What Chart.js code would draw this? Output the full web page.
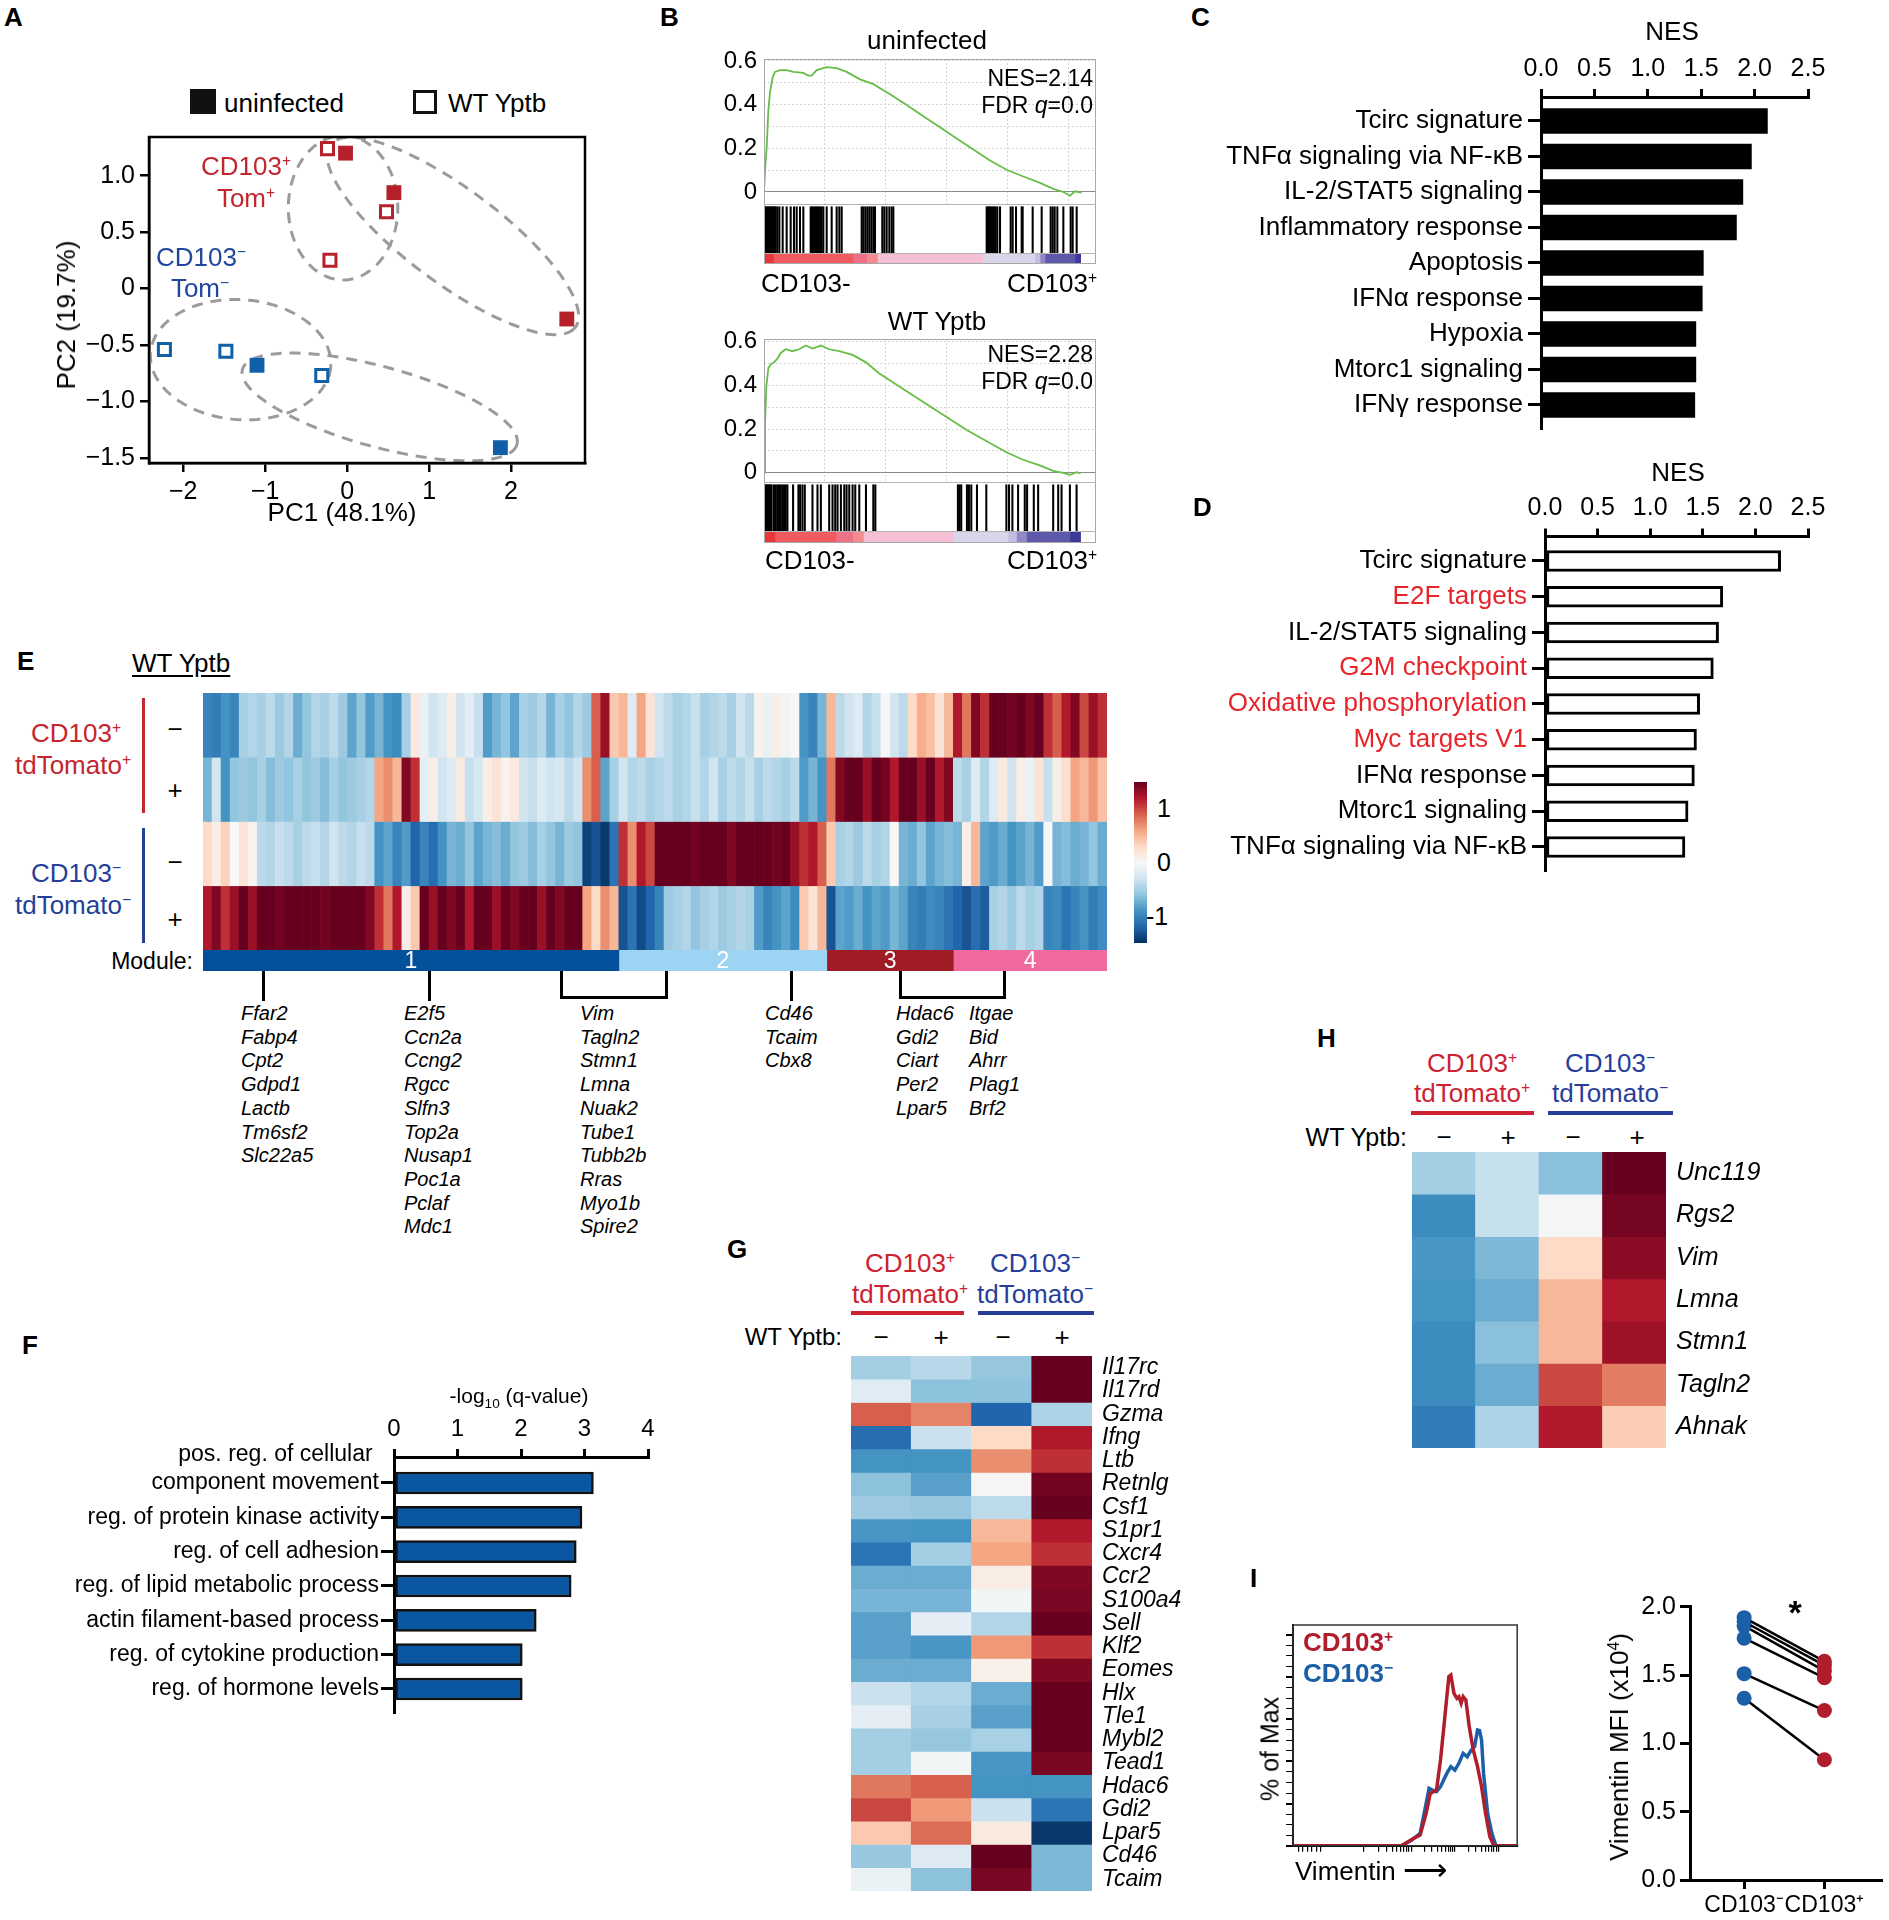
<!DOCTYPE html>
<html><head><meta charset="utf-8">
<script src="https://cdn.jsdelivr.net/npm/chart.js@4.4.1/dist/chart.umd.min.js"></script>
<style>
html,body{margin:0;padding:0;background:#fff;overflow:hidden;}
#fig{position:relative;width:1889px;height:1920px;overflow:hidden;background:#fff;font-family:'Liberation Sans',Arial,Helvetica,sans-serif;color:#000;}
#fig canvas{position:absolute;}
.t{position:absolute;white-space:nowrap;line-height:1;}
.t sup{font-size:0.6em;vertical-align:0;position:relative;top:-0.6em;line-height:0;}
.t sub{font-size:0.65em;vertical-align:0;position:relative;top:0.35em;line-height:0;}
.ln{position:absolute;}
</style></head><body><div id="fig"></div>
<script>
// ---------------- Panel A : PCA ----------------
const A_TOMP_UNINF = [[-0.02,1.20],[0.57,0.85],[2.68,-0.27]];
const A_TOMP_YPTB  = [[-0.24,1.24],[0.48,0.68],[-0.21,0.25]];
const A_TOMN_UNINF = [[-1.10,-0.68],[1.87,-1.41]];
const A_TOMN_YPTB  = [[-2.23,-0.54],[-1.48,-0.555],[-0.31,-0.77]];
const A_XTICKS = [-2,-1,0,1,2];
const A_YTICKS = [-1.5,-1,-0.5,0,0.5,1];
const A_ELLIPSES = [
  {c:[1.29,0.466],  a:[1.477,-0.823], b:[-0.417,-0.296]},
  {c:[-0.05,0.716], a:[0.0,0.64],     b:[0.668,0.0]},
  {c:[-1.30,-0.63], a:[1.10,-0.061],  b:[-0.058,-0.53]},
  {c:[0.397,-1.049],a:[1.671,-0.341], b:[-0.172,-0.334]}
];
// ---------------- Panel B : GSEA ----------------
const B_RANK_MAX = 27260;
const B_GRID_RANKS = [5000,10000,15000,20000,25000];
const B_YTICKS = [0,0.1,0.2,0.3,0.4,0.5,0.6];
const B_UNINF_RANK = [0,109,219,356,493,712,903,1314,1861,2409,3230,3640,3914,4324,5146,5967,6788,7883,8977,10346,11714,13083,14451,15820,17188,18557,19925,21294,22662,23757,24578,25125,25536,26084];
const B_UNINF_ES   = [0,0.118,0.203,0.372,0.457,0.525,0.550,0.558,0.558,0.550,0.545,0.533,0.533,0.558,0.572,0.567,0.550,0.516,0.494,0.448,0.398,0.347,0.296,0.245,0.195,0.144,0.102,0.071,0.042,0.014,0,-0.017,0.003,-0.003];
const B_WT_RANK = [0,82,192,357,549,824,1098,1373,1784,2333,2882,3431,3980,4667,5353,6176,7274,8372,9470,11117,13039,14960,16607,18254,19901,21274,22646,23744,24568,25117,25666,25995];
const B_WT_ES   = [0,0.223,0.395,0.480,0.497,0.506,0.523,0.549,0.566,0.557,0.566,0.583,0.569,0.583,0.566,0.557,0.540,0.506,0.455,0.395,0.326,0.257,0.197,0.146,0.094,0.060,0.034,0.009,0,-0.009,0.003,-0.003];
const B_UNINF_HITS = [55,137,219,301,383,465,547,630,712,794,876,958,1095,1259,1533,1861,2190,2463,2682,2956,3230,3832,3941,4051,4160,4270,4379,4489,4598,4735,4872,5146,5556,5967,6186,6377,8019,8156,8320,8485,8649,8813,8977,9114,9716,9881,10072,10291,10483,10620,18283,18365,18475,18557,18666,18776,18885,19022,19159,19378,20254,20418,20692,21157,21239,22060,22799,23538,23702,23867,24086,24578,25180,25345,25673];
const B_WT_HITS = [55,137,220,302,384,467,549,631,824,961,1098,1235,1373,1510,1647,1784,1922,2388,2827,2965,3157,3349,3980,4392,4667,5353,5627,5847,6039,6314,6588,6780,7000,7275,7494,7823,8372,8976,9141,15921,16058,16196,16662,16827,17019,17486,18254,19901,20121,20396,20862,21411,21603,22152,22509,23744,24156,24431,25117,25666];
const B_UNINF_BINS = [[0,766],[766,7335],[7335,8430],[8430,9306],[9306,17955],[17955,22252],[22252,22662],[22662,23073],[23073,25536],[25536,26002]];
const B_WT_BINS = [[0,906],[906,5902],[5902,7274],[7274,8152],[8152,15509],[15509,20038],[20038,20725],[20725,21548],[21548,25117],[25117,25995]];
const B_BIN_COLORS = ['#e8363b','#ef5b5e','#ee7287','#f28c8f','#f5bfd6','#d9d5ea','#c4bde0','#8f87c6','#5d58a9','#3b3899'];
// ---------------- Panel C / D : NES ----------------
const NES_TICKS = [0,0.5,1,1.5,2,2.5];
const C_CATS = ['Tcirc signature','TNFα signaling via NF-κB','IL-2/STAT5 signaling','Inflammatory response','Apoptosis','IFNα response','Hypoxia','Mtorc1 signaling','IFNγ response'];
const C_NES  = [2.12,1.97,1.89,1.83,1.52,1.51,1.45,1.45,1.44];
const D_CATS = ['Tcirc signature','E2F targets','IL-2/STAT5 signaling','G2M checkpoint','Oxidative phosphorylation','Myc targets V1','IFNα response','Mtorc1 signaling','TNFα signaling via NF-κB'];
const D_NES  = [2.24,1.69,1.65,1.60,1.47,1.44,1.42,1.36,1.33];
const D_HIGHLIGHT = [0,1,0,1,1,1,0,0,0];
// ---------------- Panel E : heatmap ----------------
const E_TOMP_UNINF = [-1.0,-1.05,-0.9,-1.0,-0.5,-0.45,-0.5,-0.4,-0.55,-0.45,-0.75,-0.6,-0.45,-0.5,-0.4,-0.55,-0.8,-0.6,-0.85,-0.7,-0.9,-0.95,-0.5,0.15,-0.1,-0.3,-0.2,0.1,-0.3,-0.15,-0.35,-0.85,-0.7,-0.6,-0.8,-0.5,-0.55,-0.45,-0.7,-0.5,-0.6,-0.45,-0.55,0.9,1.3,0.4,0.5,-0.2,0.6,0.2,-0.3,-0.4,-0.5,-0.45,-0.35,-0.5,-0.45,-0.4,-0.5,-0.3,-0.4,0.05,-0.1,0.1,-0.05,0.0,-0.9,-1.0,-0.7,0.5,-0.4,-0.3,-0.2,-0.45,-0.35,0.0,-0.3,-0.4,0.3,0.55,0.45,0.2,0.5,1.2,0.8,1.4,1.1,1.5,1.5,1.45,1.5,1.4,1.5,1.1,0.9,1.2,1.4,1.0,1.3,1.1];
const E_TOMP_YPTB  = [-0.7,-0.3,-0.9,-0.6,-0.55,-0.6,-0.5,-0.65,-0.55,-0.6,-0.5,-0.6,-0.55,-0.65,-0.5,-0.6,-0.55,-0.5,-0.45,0.6,0.7,0.5,1.4,1.1,-0.15,0.1,-0.3,-0.2,0.15,-0.35,-0.25,0.1,0.2,0.05,0.15,-0.3,-0.35,-0.2,-0.3,-0.25,-0.4,-0.3,0.7,0.9,-0.8,-0.5,-0.3,-0.45,-0.4,-0.5,-0.45,-0.4,-0.5,-0.45,-0.35,-0.45,-0.3,-0.5,-0.4,-0.45,-0.35,-0.5,-0.4,-0.45,-0.5,-0.4,-0.85,-0.7,-0.9,0.8,1.4,1.5,1.5,1.3,1.5,1.45,1.2,1.5,1.5,1.3,1.5,1.2,1.4,-0.4,-0.5,-0.2,-0.45,-0.2,0.15,-0.3,0.1,-0.1,0.2,-0.35,0.1,0.25,0.6,0.5,0.65,0.45];
const E_TOMN_UNINF = [0.3,0.1,0.35,0.0,0.2,0.05,-0.4,-0.45,-0.35,-0.4,-0.5,-0.4,-0.35,-0.45,-0.3,-0.4,-0.45,-0.35,-0.4,-0.9,-0.8,-1.0,-0.85,-1.2,-1.0,-1.15,-0.9,-0.7,-0.75,-0.6,-0.8,-0.7,-0.65,-0.75,-0.6,-0.55,-0.65,-0.5,-0.6,-0.7,-0.55,-0.6,-1.4,-1.3,-1.45,-1.1,1.1,0.7,1.2,1.0,1.5,1.5,1.5,1.5,1.45,1.5,1.5,1.5,1.4,1.5,1.5,1.5,1.5,1.45,1.5,1.3,1.1,1.2,0.9,0.4,-0.5,-0.45,-0.55,-0.4,-0.5,-0.45,0.0,-0.7,-0.75,-0.6,-0.8,-0.7,-0.65,-0.7,0.1,0.5,-0.8,-0.85,-0.75,-0.9,-0.8,-0.7,-0.85,0.0,-0.7,-0.65,-0.75,-0.7,-0.6,-0.75];
const E_TOMN_YPTB  = [1.2,1.4,1.1,1.3,1.5,1.3,1.5,1.5,1.45,1.5,1.5,1.5,1.5,1.45,1.5,1.5,1.5,1.5,1.4,1.1,0.8,1.2,0.1,0.4,1.5,1.3,1.5,1.4,1.5,1.2,1.5,1.5,1.3,1.5,1.4,1.5,1.5,1.3,1.5,1.4,1.5,1.5,0.6,0.3,0.7,0.5,-1.3,-1.1,-1.35,-1.2,-1.0,-0.55,-0.5,-0.45,-0.6,-0.5,-0.45,-0.55,-0.5,-0.45,-0.5,-0.85,-1.0,-0.9,-0.8,-0.95,0.4,0.2,0.5,-1.3,-0.8,-0.85,-0.75,-0.9,-0.8,-0.85,-0.7,-0.8,-1.0,-1.05,-0.95,-1.0,-1.1,-1.2,-1.3,-1.15,-1.25,-0.5,-0.45,-0.55,-0.4,-0.5,-0.45,-1.0,-0.95,-1.1,-1.0,-0.9,-1.05,-0.95];
const E_MODULE_NAMES = ['1','2','3','4'];
const E_MODULE_SIZES = [46,23,14,17];
const E_MODULE_COLORS = ['#03519b','#9ed4f3','#a01c24','#f06aa0'];
const E_GENE_LISTS = [
  ['Ffar2','Fabp4','Cpt2','Gdpd1','Lactb','Tm6sf2','Slc22a5'],
  ['E2f5','Ccn2a','Ccng2','Rgcc','Slfn3','Top2a','Nusap1','Poc1a','Pclaf','Mdc1'],
  ['Vim','Tagln2','Stmn1','Lmna','Nuak2','Tube1','Tubb2b','Rras','Myo1b','Spire2'],
  ['Cd46','Tcaim','Cbx8'],
  ['Hdac6','Gdi2','Ciart','Per2','Lpar5'],
  ['Itgae','Bid','Ahrr','Plag1','Brf2']
];
// ---------------- Panel F : GO terms ----------------
const F_CATS = [['pos. reg. of cellular ','component movement'],'reg. of protein kinase activity','reg. of cell adhesion','reg. of lipid metabolic process','actin filament-based process','reg. of cytokine production','reg. of hormone levels'];
const F_VALUES = [3.14,2.96,2.87,2.79,2.24,2.02,2.02];
const F_TICKS = [0,1,2,3,4];
// ---------------- Panel G / H : heatmaps ----------------
const HEAT_CONDS = ['CD103+ uninfected','CD103+ WT Yptb','CD103- uninfected','CD103- WT Yptb'];
const G_GENES = ['Il17rc','Il17rd','Gzma','Ifng','Ltb','Retnlg','Csf1','S1pr1','Cxcr4','Ccr2','S100a4','Sell','Klf2','Eomes','Hlx','Tle1','Mybl2','Tead1','Hdac6','Gdi2','Lpar5','Cd46','Tcaim'];
const G_TOMP_UNINF = [-0.52,-0.18,0.9,-1.15,-0.9,-0.62,-0.55,-0.88,-1.1,-0.75,-0.7,-0.82,-0.82,-0.75,-0.33,-0.15,-0.52,-0.52,0.8,1.0,0.4,-0.57,-0.1];
const G_TOMP_YPTB  = [-0.42,-0.62,0.75,-0.33,-0.9,-0.82,-0.58,-0.9,-0.52,-0.75,-0.7,-0.15,-0.88,-0.75,-0.45,-0.5,-0.58,-0.04,0.9,0.65,0.85,-0.2,-0.62];
const G_TOMN_UNINF = [-0.58,-0.61,-1.2,0.3,0.7,0.02,-0.4,0.5,0.6,0.12,-0.04,-0.45,0.65,0.08,-0.75,-0.82,-0.49,-0.88,-0.9,-0.33,0.15,1.5,1.43];
const G_TOMN_YPTB  = [1.5,1.5,-0.47,1.2,1.1,1.45,1.5,1.2,1.1,1.4,1.43,1.5,1.1,1.4,1.5,1.5,1.5,1.42,-0.9,-1.1,-1.45,-0.68,-0.68];
const H_GENES = ['Unc119','Rgs2','Vim','Lmna','Stmn1','Tagln2','Ahnak'];
const H_TOMP_UNINF = [-0.52,-0.95,-0.88,-0.9,-0.95,-0.95,-1.05];
const H_TOMP_YPTB  = [-0.35,-0.35,-0.68,-0.75,-0.63,-0.75,-0.47];
const H_TOMN_UNINF = [-0.63,-0.03,0.3,0.5,0.5,1.0,1.2];
const H_TOMN_YPTB  = [1.5,1.44,1.35,1.2,1.28,0.78,0.38];
// ---------------- Panel I ----------------
const I_HIST_CD103P = [[0,0],[48.4,0],[53.9,3.5],[56.7,5.1],[59.4,15.3],[61.2,24.8],[64.0,26.4],[65.8,40.7],[67.6,59.7],[69.5,80.2],[70.4,81.0],[71.8,72.3],[73.1,69.9],[74.0,70.7],[75.0,67.6],[75.9,70.7],[77.1,69.1],[78.6,56.5],[80.4,45.4],[82.3,37.5],[84.1,28.0],[85.9,15.3],[87.8,4.3],[89.6,0],[100,0]];
const I_HIST_CD103N = [[0,0],[48.4,0],[53.0,2.7],[56.7,5.9],[58.5,15.3],[60.7,27.2],[62.2,26.4],[64.0,25.6],[65.8,28.0],[68.6,34.3],[70.4,37.5],[72.2,35.9],[74.0,39.1],[75.9,43.8],[77.7,42.2],[79.5,45.4],[81.0,47.0],[82.3,54.9],[83.2,54.6],[84.1,50.2],[85.0,34.3],[86.8,15.3],[88.7,5.9],[90.5,0],[100,0]];
const I_HIST_XTICKS = [2.7,4.5,6.5,8.5,10.5,12.5,31.7,38.0,41.7,44.3,46.4,48.0,49.4,50.7,51.7,52.7,58.6,62.0,64.5,66.4,67.9,69.3,70.4,71.4,72.3,78.1,81.5,83.9,85.7,87.2,88.5,89.6,90.6,91.5];
const I_HIST_YTICKS = [0,5,10,15,20,25,30,35,40,45,50,55,60,65,70,75,80,85,90,95,100];
const I_CATS = ['CD103⁻','CD103⁺'];
const I_MFI_CD103N = [1.92,1.89,1.86,1.77,1.51,1.33];
const I_MFI_CD103P = [1.60,1.57,1.53,1.48,1.24,0.88];
const I_MFI_TICKS = [0,0.5,1,1.5,2];

// ================= drawing =================
Chart.defaults.font.family = "'Liberation Sans', Arial, Helvetica, sans-serif";
Chart.defaults.color = '#000';
Chart.defaults.animation = false;
Chart.defaults.responsive = false;
Chart.defaults.devicePixelRatio = 1;
Chart.defaults.events = [];
Chart.defaults.plugins.legend.display = false;
Chart.defaults.plugins.tooltip.enabled = false;

const fig = document.getElementById('fig');
function cv(l,t,w,h){const c=document.createElement('canvas');c.width=w;c.height=h;c.style.left=l+'px';c.style.top=t+'px';c.style.width=w+'px';c.style.height=h+'px';fig.appendChild(c);return c;}
function T(x,y,html,o){o=o||{};const d=document.createElement('div');d.className='t';const ax=o.a==='r'?'-100%':o.a==='c'?'-50%':'0';d.style.left=x+'px';d.style.top=y+'px';d.style.fontSize=(o.s||26)+'px';if(o.c)d.style.color=o.c;if(o.b)d.style.fontWeight='bold';if(o.i)d.style.fontStyle='italic';if(o.u){d.style.textDecoration='underline';d.style.textUnderlineOffset='3px';}d.style.transform='translate('+ax+',-50%)'+(o.rot?' rotate('+o.rot+'deg)':'');d.innerHTML=html;fig.appendChild(d);return d;}
function L(x,y,w,h,c){const d=document.createElement('div');d.className='ln';d.style.cssText='left:'+x+'px;top:'+y+'px;width:'+w+'px;height:'+h+'px;background:'+(c||'#000');fig.appendChild(d);}
function BOX(x,y,w,h,c,bw){const d=document.createElement('div');d.className='ln';d.style.cssText='left:'+x+'px;top:'+y+'px;width:'+w+'px;height:'+h+'px;border:'+(bw||1)+'px solid '+c+';box-sizing:border-box';fig.appendChild(d);}
const fix = n => s => { if (s.isHorizontal()) s.height = n; else s.width = n; s.paddingLeft = s.paddingRight = s.paddingTop = s.paddingBottom = 0; };
const ticksAt = arr => s => { s.ticks = arr.map(v => ({value: v})); };
const toXY = arr => arr.map(p => ({x:p[0], y:p[1]}));
const signed = (v,d) => (v<0?'−':'') + Math.abs(v).toFixed(d);
const framePlugin = (color,w) => ({id:'frame',afterDraw(c){const a=c.chartArea,x=c.ctx;x.save();x.strokeStyle=color;x.lineWidth=w;x.strokeRect(a.left,a.top,a.right-a.left,a.bottom-a.top);x.restore();}});
const RDBU=['#053061','#2166ac','#4393c3','#92c5de','#d1e5f0','#f7f7f7','#fddbc7','#f4a582','#d6604d','#b2182b','#67001f'];
function hx(h){return [1,3,5].map(i=>parseInt(h.substr(i,2),16));}
function heat(v){const t=(Math.max(-1.5,Math.min(1.5,v))+1.5)/3*10;const i=Math.min(9,Math.floor(t));const f=t-i;const a=hx(RDBU[i]),b=hx(RDBU[i+1]);return 'rgb('+a.map((x,k)=>Math.round(x+(b[k]-x)*f)).join(',')+')';}
const axK = (w,tl) => ({grid:{drawOnChartArea:false,color:'#000',lineWidth:w,tickLength:tl,offset:false},border:{display:true,color:'#000',width:w}});

const RED_A='#b5202a', BLUE_A='#0f5fa9', REDT='#c1272d', BLUET='#21479b';
const REDE='#c5252c', BLUEE='#253f98', REDG='#cc2232', BLUEG='#273f9b', RED_D='#e8242b';
const RED_I='#b01e2c', BLUE_I='#1b5fa8';

// ---------- A ----------
const ellipsePlugin = {id:'ell',beforeDatasetsDraw(c){const {ctx,chartArea:a,scales:{x,y}}=c;ctx.save();ctx.beginPath();ctx.rect(a.left,a.top,a.right-a.left,a.bottom-a.top);ctx.clip();ctx.setLineDash([11,8]);ctx.lineWidth=3;ctx.strokeStyle='#9b9b9b';
 A_ELLIPSES.forEach(e=>{ctx.beginPath();for(let k=0;k<=160;k++){const t=k/160*2*Math.PI;const px=x.getPixelForValue(e.c[0]+e.a[0]*Math.cos(t)+e.b[0]*Math.sin(t));const py=y.getPixelForValue(e.c[1]+e.a[1]*Math.cos(t)+e.b[1]*Math.sin(t));if(k)ctx.lineTo(px,py);else ctx.moveTo(px,py);}ctx.stroke();});ctx.restore();}};
new Chart(cv(0,120,600,420),{type:'scatter',
 data:{datasets:[
  {data:toXY(A_TOMP_UNINF),pointStyle:'rect',pointRadius:10.5,pointBackgroundColor:RED_A,pointBorderWidth:0},
  {data:toXY(A_TOMP_YPTB),pointStyle:'rect',pointRadius:8.5,pointBackgroundColor:'#fff',pointBorderColor:RED_A,pointBorderWidth:3},
  {data:toXY(A_TOMN_UNINF),pointStyle:'rect',pointRadius:10.5,pointBackgroundColor:BLUE_A,pointBorderWidth:0},
  {data:toXY(A_TOMN_YPTB),pointStyle:'rect',pointRadius:8.5,pointBackgroundColor:'#fff',pointBorderColor:BLUE_A,pointBorderWidth:3}]},
 options:{layout:{padding:{top:17,right:15,bottom:0,left:0}},
  scales:{
   x:Object.assign({type:'linear',min:-2.418,max:2.902,afterBuildTicks:ticksAt(A_XTICKS),afterFit:fix(77),ticks:{callback:v=>signed(v,0),font:{size:25},padding:5,maxRotation:0,autoSkip:false}},axK(2.5,9)),
   y:Object.assign({type:'linear',min:-1.546,max:1.343,afterBuildTicks:ticksAt(A_YTICKS),afterFit:fix(149),ticks:{callback:v=>v===0?'0':signed(v,1),font:{size:25},padding:5,autoSkip:false}},axK(2.5,9))}},
 plugins:[ellipsePlugin,framePlugin('#000',2.5)]});
T(4,17,'A',{b:1});
L(190,89,26,25,'#111'); BOX(413,90,24,24,'#111',3);
T(224,103,'uninfected'); T(448,103,'WT Yptb');
T(66,315,'PC2 (19.7%)',{a:'c',rot:-90}); T(342,512,'PC1 (48.1%)',{a:'c'});
T(246,166,'CD103<sup>+</sup>',{a:'c',c:REDT}); T(246,198,'Tom<sup>+</sup>',{a:'c',c:REDT});
T(201,257,'CD103<sup>−</sup>',{a:'c',c:BLUET}); T(200,288,'Tom<sup>−</sup>',{a:'c',c:BLUET});

// ---------- B ----------
function gseaCurve(top,h,ymin,ymax,ranks,es){
 new Chart(cv(700,top,400,h),{type:'line',
  data:{datasets:[{data:ranks.map((r,i)=>({x:r,y:es[i]})),borderColor:'#67bd45',borderWidth:1.8,pointRadius:0,tension:0}]},
  options:{layout:{padding:{top:9,right:4,left:0,bottom:0}},
   scales:{
    x:{type:'linear',min:0,max:B_RANK_MAX,afterBuildTicks:ticksAt(B_GRID_RANKS),afterFit:fix(0),ticks:{display:false},grid:{drawTicks:false,color:'#d6d6d6',lineWidth:1},border:{display:false,dash:[2,2]}},
    y:{type:'linear',min:ymin,max:ymax,afterBuildTicks:ticksAt(B_YTICKS),afterFit:fix(64),
       ticks:{callback:v=>{const k=Math.round(v*10);return k%2===0?(k===0?'0':(k/10).toFixed(1)):'';},font:{size:24},padding:7,autoSkip:false},
       grid:{drawTicks:false,lineWidth:1,color:c=>(c.tick&&Math.abs(c.tick.value)<1e-9)?'#8a8a8a':'#d6d6d6'},
       border:{display:false,dash:c=>(c.tick&&Math.abs(c.tick.value)<1e-9)?[]:[2,2]}}}}});
}
function barcode(top,hits){
 new Chart(cv(764,top,332,49),{type:'bar',
  data:{datasets:[{data:hits.map(r=>({x:r,y:1})),backgroundColor:'#000',borderWidth:0,barThickness:1.4}]},
  options:{scales:{x:{type:'linear',display:false,min:0,max:B_RANK_MAX,offset:false,grid:{offset:false}},y:{display:false,min:0,max:1.06}}}});
}
function rankBar(top,h,bins){
 new Chart(cv(764,top,332,h),{type:'bar',
  data:{labels:['rank'],datasets:bins.map((b,i)=>({data:[b],backgroundColor:B_BIN_COLORS[i],grouped:false,barPercentage:1,categoryPercentage:1,borderWidth:0}))},
  options:{indexAxis:'y',scales:{x:{display:false,min:0,max:B_RANK_MAX},y:{display:false}}}});
}
gseaCurve(50,154,-0.055,0.609,B_UNINF_RANK,B_UNINF_ES); barcode(204,B_UNINF_HITS); rankBar(253,11,B_UNINF_BINS);
gseaCurve(330,152,-0.042,0.613,B_WT_RANK,B_WT_ES); barcode(482,B_WT_HITS); rankBar(531,12,B_WT_BINS);
BOX(764,59,332,205,'#a8a8a8'); L(764,204,332,1,'#b4b4b4'); L(764,253,332,1,'#b4b4b4');
BOX(764,339,332,204,'#a8a8a8'); L(764,482,332,1,'#b4b4b4'); L(764,531,332,1,'#b4b4b4');
T(660,17,'B',{b:1});
T(927,40,'uninfected',{a:'c'}); T(1093,78,'NES=2.14',{a:'r',s:23}); T(1093,105,'FDR <i>q</i>=0.0',{a:'r',s:23});
T(761,283,'CD103-'); T(1097,283,'CD103<sup>+</sup>',{a:'r'});
T(937,321,'WT Yptb',{a:'c'}); T(1093,354,'NES=2.28',{a:'r',s:23}); T(1093,381,'FDR <i>q</i>=0.0',{a:'r',s:23});
T(765,560,'CD103-'); T(1097,560,'CD103<sup>+</sup>',{a:'r'});

// ---------- C / D / F (horizontal bars) ----------
function hbar(canvas,cats,vals,o){
 const plugins=o.plugins||[];
 new Chart(canvas,{type:'bar',
  data:{datasets:[{data:vals.map((v,i)=>({x:v,y:i})),backgroundColor:o.fill,borderColor:o.stroke||o.fill,borderWidth:o.bw||0,borderSkipped:false,barThickness:o.thick}]},
  options:{indexAxis:'y',layout:{padding:o.pad},
   scales:{
    x:Object.assign({type:'linear',position:'top',min:0,max:o.xmax,afterBuildTicks:ticksAt(o.xticks),afterFit:fix(o.xh),ticks:{callback:o.xfmt,font:{size:o.xfs},padding:o.xpad,maxRotation:0,autoSkip:false}},axK(3,8)),
    y:Object.assign({type:'linear',reverse:true,offset:false,min:o.ymin,max:o.ymax,afterBuildTicks:ticksAt(cats.map((_,i)=>i)),afterFit:fix(o.yw),
      ticks:{callback:v=>{const c=cats[v];return Array.isArray(c)?c[c.length-1]:c;},font:{size:o.yfs},padding:o.ypad,autoSkip:false,color:o.ycolor||'#000'}},axK(3,13))}},
  plugins:plugins});
}
hbar(cv(1190,40,640,400),C_CATS,C_NES,{fill:'#000',thick:25,pad:{top:0,right:22,bottom:12,left:0},xmax:2.5,xticks:NES_TICKS,xfmt:v=>v.toFixed(1),xh:57,xfs:25,xpad:5,ymin:-0.676,ymax:8.648,yw:351,yfs:26,ypad:5});
hbar(cv(1190,450,640,430),D_CATS,D_NES,{fill:'#fff',stroke:'#000',bw:3,thick:21,pad:{top:0,right:22,bottom:10,left:0},xmax:2.5,xticks:NES_TICKS,xfmt:v=>v.toFixed(1),xh:86.5,xfs:25,xpad:5,ymin:-0.685,ymax:8.644,yw:355,yfs:26,ypad:5,ycolor:c=>D_HIGHLIGHT[c.index]?RED_D:'#000'});
const fExtraLines={id:'fml',afterDraw(c){const s=c.scales.y,ctx=c.ctx;ctx.save();ctx.font='23px "Liberation Sans", Arial, sans-serif';ctx.fillStyle='#000';ctx.textAlign='right';ctx.textBaseline='middle';
 F_CATS.forEach((cat,i)=>{if(Array.isArray(cat)){const y=s.getPixelForValue(i);for(let k=0;k<cat.length-1;k++){ctx.fillText(cat[k],s.right-15,y-(cat.length-1-k)*28);}}});ctx.restore();}};
hbar(cv(30,1400,640,320),F_CATS,F_VALUES,{fill:'#0b56a1',stroke:'#111',bw:2.5,thick:22,pad:{top:0,right:22,bottom:8,left:0},xmax:4,xticks:F_TICKS,xfmt:v=>String(v),xh:57,xfs:24,xpad:5,ymin:-0.757,ymax:6.671,yw:364,yfs:23,ypad:2,plugins:[fExtraLines]});
T(1191,17,'C',{b:1}); T(1672,31,'NES',{a:'c'});
T(1193,507,'D',{b:1}); T(1678,472,'NES',{a:'c'});
T(22,1345,'F',{b:1}); T(519,1395,'-log<sub>10</sub> (q-value)',{a:'c',s:21});

// ---------- E ----------
const E_ROWS=[E_TOMP_UNINF,E_TOMP_YPTB,E_TOMN_UNINF,E_TOMN_YPTB];
new Chart(cv(203,693,904,257),{type:'bar',
 data:{labels:E_TOMP_UNINF.map((_,i)=>'gene '+(i+1)),datasets:E_ROWS.map(r=>({data:r.map(()=>1),backgroundColor:r.map(heat),borderWidth:0,barPercentage:1,categoryPercentage:1}))},
 options:{scales:{x:{display:false,stacked:true},y:{display:false,stacked:true,min:0,max:E_ROWS.length,reverse:true}}}});
const modNum={id:'modnum',afterDatasetsDraw(c){const ctx=c.ctx;ctx.save();ctx.fillStyle='#fff';ctx.font='23px "Liberation Sans", Arial, sans-serif';ctx.textAlign='center';ctx.textBaseline='middle';
 c.data.datasets.forEach((d,i)=>{const el=c.getDatasetMeta(i).data[0];ctx.fillText(d.label,(el.x+el.base)/2,el.y+1);});ctx.restore();}};
new Chart(cv(203,950,904,21),{type:'bar',
 data:{labels:['module'],datasets:E_MODULE_SIZES.map((n,i)=>({label:E_MODULE_NAMES[i],data:[n],backgroundColor:E_MODULE_COLORS[i],borderWidth:0,barPercentage:1,categoryPercentage:1}))},
 options:{indexAxis:'y',scales:{x:{display:false,stacked:true,min:0,max:100},y:{display:false,stacked:true}}},plugins:[modNum]});
T(17,661,'E',{b:1}); T(132,663,'WT Yptb',{u:1});
T(76,733,'CD103<sup>+</sup>',{a:'c',c:REDE}); T(73,765,'tdTomato<sup>+</sup>',{a:'c',c:REDE}); L(142,698,3,115,REDE);
T(76,873,'CD103<sup>−</sup>',{a:'c',c:BLUEE}); T(73,905,'tdTomato<sup>−</sup>',{a:'c',c:BLUEE}); L(142,828,3,115,BLUEE);
T(175,729,'−',{a:'c'}); T(175,790,'+',{a:'c'}); T(175,862,'−',{a:'c'}); T(175,919,'+',{a:'c'});
T(193,961,'Module:',{a:'r',s:23});
(function(){const d=document.createElement('div');d.className='ln';d.style.cssText='left:1134px;top:782px;width:13px;height:161px;background:linear-gradient(to top,'+RDBU.join(',')+')';fig.appendChild(d);})();
T(1157,808,'1',{s:25}); T(1157,862,'0',{s:25}); T(1146,916,'-1',{s:25});
[241,404,580,765,896,969].forEach((x,ci)=>{E_GENE_LISTS[ci].forEach((g,k)=>T(x,1013+23.7*k,g,{i:1,s:20}));});
L(262,971,2.5,30); L(428,971,2.5,30); L(790,971,2.5,30);
L(560,971,2.5,27); L(665,971,2.5,27); L(560,996,107.5,2.5);
L(899,971,2.5,27); L(1003,971,2.5,27); L(899,996,106.5,2.5);

// ---------- G / H ----------
function geneHeat(l,t,w,h,lw,genes,cols,fs){
 new Chart(cv(l,t,w+lw,h),{type:'bar',
  data:{labels:HEAT_CONDS,datasets:genes.map((g,k)=>({label:g,data:cols.map(()=>1),backgroundColor:cols.map(c=>heat(c[k])),borderWidth:0,barPercentage:1,categoryPercentage:1}))},
  options:{scales:{x:{display:false,stacked:true},y:{display:false,stacked:true,min:0,max:genes.length,reverse:true},
   y2:{type:'category',labels:genes,position:'right',offset:true,afterFit:fix(lw),grid:{display:false},border:{display:false},ticks:{font:{size:fs,style:'italic'},padding:2,autoSkip:false}}}}});
}
geneHeat(851,1356,241,535,104,G_GENES,[G_TOMP_UNINF,G_TOMP_YPTB,G_TOMN_UNINF,G_TOMN_YPTB],23);
geneHeat(1412,1152,254,296,112,H_GENES,[H_TOMP_UNINF,H_TOMP_YPTB,H_TOMN_UNINF,H_TOMN_YPTB],25);
T(727,1249,'G',{b:1});
T(910,1263,'CD103<sup>+</sup>',{a:'c',c:REDG}); T(910,1294,'tdTomato<sup>+</sup>',{a:'c',c:REDG}); L(851,1311,113,4,REDG);
T(1035,1263,'CD103<sup>−</sup>',{a:'c',c:BLUEG}); T(1035,1294,'tdTomato<sup>−</sup>',{a:'c',c:BLUEG}); L(978,1311,116,4,BLUEG);
T(842,1337,'WT Yptb:',{a:'r',s:24});
[[881,'−'],[941,'+'],[1003,'−'],[1062,'+']].forEach(p=>T(p[0],1337,p[1],{a:'c'}));
T(1317,1038,'H',{b:1});
T(1472,1063,'CD103<sup>+</sup>',{a:'c',c:REDG}); T(1472,1093,'tdTomato<sup>+</sup>',{a:'c',c:REDG}); L(1411,1111,123,4,REDG);
T(1610,1063,'CD103<sup>−</sup>',{a:'c',c:BLUEG}); T(1610,1093,'tdTomato<sup>−</sup>',{a:'c',c:BLUEG}); L(1548,1111,125,4,BLUEG);
T(1407,1137,'WT Yptb:',{a:'r',s:25});
[[1444,'−'],[1508,'+'],[1573,'−'],[1637,'+']].forEach(p=>T(p[0],1137,p[1],{a:'c'}));

// ---------- I ----------
new Chart(cv(1250,1600,280,260),{type:'line',
 data:{datasets:[
  {data:toXY(I_HIST_CD103P),borderColor:RED_I,borderWidth:3.5,pointRadius:0,tension:0},
  {data:toXY(I_HIST_CD103N),borderColor:BLUE_I,borderWidth:3.5,pointRadius:0,tension:0}]},
 options:{layout:{padding:{top:25,right:12.8,left:0,bottom:0}},
  scales:{
   x:{type:'linear',min:0,max:100,afterBuildTicks:ticksAt(I_HIST_XTICKS),afterFit:fix(14.3),ticks:{display:false},grid:{drawOnChartArea:false,color:'#000',lineWidth:1.2,tickLength:6},border:{color:'#000',width:2}},
   y:{type:'linear',min:0,max:104.7,afterBuildTicks:ticksAt(I_HIST_YTICKS),afterFit:fix(43),ticks:{display:false},grid:{drawOnChartArea:false,color:'#000',lineWidth:c=>(c.tick&&c.tick.value%20===0)?2:1,tickLength:7},border:{color:'#000',width:2}}}},
 plugins:[framePlugin('#333',1.5)]});
new Chart(cv(1600,1590,289,330),{type:'line',
 data:{datasets:I_MFI_CD103N.map((b,i)=>({data:[{x:0,y:b},{x:1,y:I_MFI_CD103P[i]}],borderColor:'#000',borderWidth:2.5,pointRadius:7.5,pointBackgroundColor:[BLUE_I,RED_I],pointBorderColor:[BLUE_I,RED_I],pointBorderWidth:0}))},
 options:{clip:false,layout:{padding:{top:16.7,right:2,left:0,bottom:0}},
  scales:{
   x:Object.assign({type:'linear',min:-0.674,max:1.711,afterBuildTicks:ticksAt([0,1]),afterFit:fix(40),ticks:{callback:v=>I_CATS[v],font:{size:23},padding:3,autoSkip:false,maxRotation:0}},axK(3,9)),
   y:Object.assign({type:'linear',min:0,max:2,afterBuildTicks:ticksAt(I_MFI_TICKS),afterFit:fix(90),ticks:{callback:v=>v.toFixed(1),font:{size:25},padding:4,autoSkip:false}},axK(3,10))}}});
T(1250,1578,'I',{b:1});
T(1303,1642,'CD103<sup>+</sup>',{b:1,c:RED_I}); T(1303,1673,'CD103<sup>−</sup>',{b:1,c:BLUE_I});
T(1270,1749,'% of Max',{a:'c',rot:-90,s:25});
T(1295,1870,'Vimentin <span style="font-size:1.2em">⟶</span>',{s:26});
T(1619,1747,'Vimentin MFI (x10<sup>4</sup>)',{a:'c',rot:-90,s:26});
T(1795,1612,'*',{a:'c',b:1,s:34});
</script></body></html>
